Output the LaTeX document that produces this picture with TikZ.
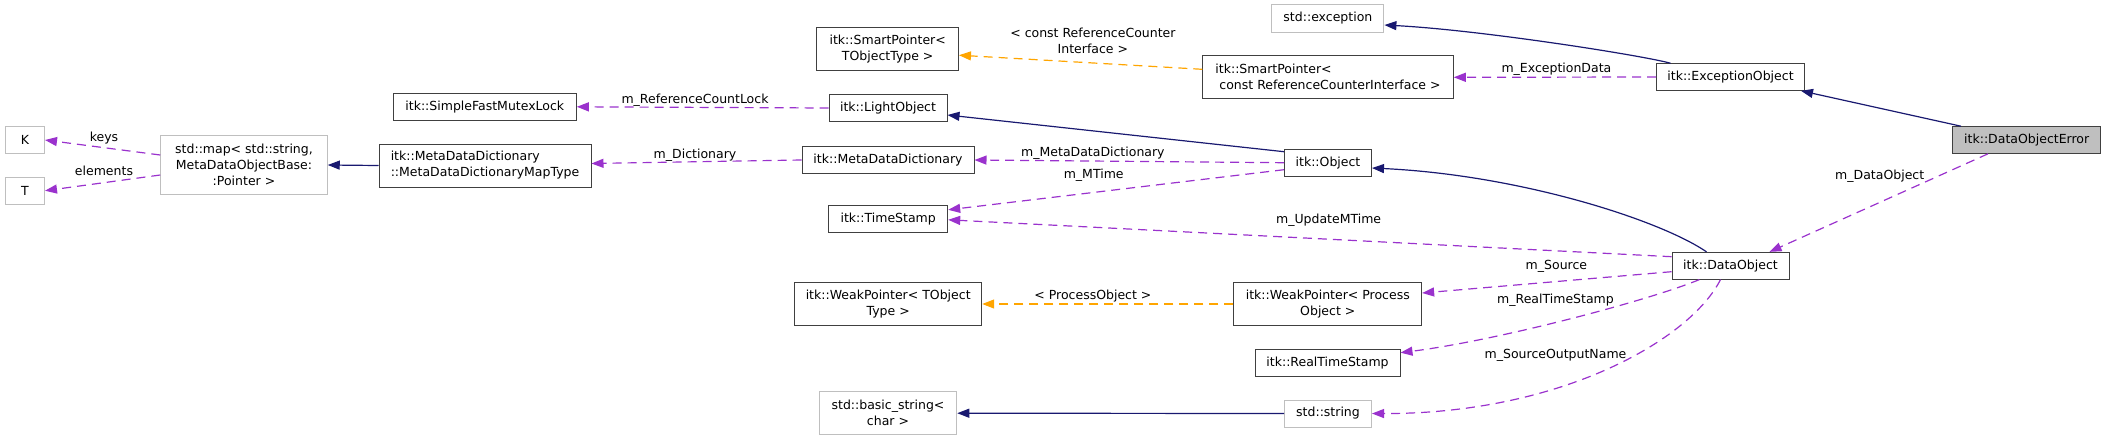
\documentclass[tikz,border=0pt]{standalone}
\usepackage{fontspec}
\setmainfont{DejaVu Sans}
\usepackage{tikz}
\usepackage{xcolor}
\usetikzlibrary{arrows.meta}

\definecolor{colorInherit}{HTML}{191970}
\definecolor{colorMember}{HTML}{9A32CD}
\definecolor{colorTemplate}{HTML}{FFA500}
\definecolor{colorBorder}{HTML}{404040}
\definecolor{colorStd}{HTML}{BFBFBF}
\definecolor{colorMain}{HTML}{BFBFBF}
\def\colorInherit{colorInherit}
\def\colorMember{colorMember}
\def\colorTemplate{colorTemplate}
\def\colorBorder{colorBorder}
\def\colorStd{colorStd}
\def\colorMain{colorMain}

\tikzset{
    classbox/.style = {draw = \colorBorder , fill = white , line width = 1pt , inner sep = 0pt , align = center , font = \fontsize{12.5pt}{16pt}\selectfont},
    stdbox/.style = {classbox , draw = \colorStd},
    mainbox/.style = {classbox , fill = \colorMain},
    lbl/.style = {inner sep = 0pt , align = center , font = \fontsize{12.5pt}{16pt}\selectfont},
    inherit/.style = {line width = 1.2pt , color = \colorInherit , -{Triangle[length=12pt , width=9pt]}},
    member/.style = {line width = 1.2pt , color = \colorMember , dash pattern = on 9pt off 6pt , -{Triangle[length=12pt , width=9pt]}},
    templ/.style = {member , color = \colorTemplate},
}

\begin{document}
\begin{tikzpicture}[x = 1pt , y = -1pt]

    \useasboundingbox (0,0) rectangle (2107,440);

    % Classes (colonne de gauche)
    \node[stdbox , minimum width = 39pt , minimum height = 27pt] (keyK) at (25,140) {K};
    \node[stdbox , minimum width = 39pt , minimum height = 27pt] (elemT) at (25,190.7) {T};
    \node[stdbox , minimum width = 166.5pt , minimum height = 58.6pt] (stdMap) at (244,165) {std::map< std::string,\\MetaDataObjectBase:\\:Pointer >};
    \node[classbox , minimum width = 183pt , minimum height = 27pt] (mutexLock) at (484.8,106.8) {itk::SimpleFastMutexLock};
    \node[classbox , align = left , minimum width = 212pt , minimum height = 43pt] (dictMapType) at (485,165.5) {itk::MetaDataDictionary\\::MetaDataDictionaryMapType};

    % Classes (colonne du milieu)
    \node[classbox , minimum width = 141.5pt , minimum height = 43pt] (smartPtrT) at (887.7,49.2) {itk::SmartPointer<\\TObjectType >};
    \node[classbox , minimum width = 118pt , minimum height = 27pt] (lightObj) at (888,108) {itk::LightObject};
    \node[classbox , minimum width = 172pt , minimum height = 27pt] (metaDict) at (888,160) {itk::MetaDataDictionary};
    \node[classbox , minimum width = 119pt , minimum height = 27pt] (timeStamp) at (888.2,218.8) {itk::TimeStamp};
    \node[classbox , minimum width = 187pt , minimum height = 43pt] (weakPtrT) at (888.2,304) {itk::WeakPointer< TObject\\Type >};
    \node[stdbox , minimum width = 137.5pt , minimum height = 43pt] (basicString) at (888,413.2) {std::basic\_string<\\char >};

    \node[stdbox , minimum width = 112pt , minimum height = 27.6pt] (stdExc) at (1327.9,18.5) {std::exception};
    \node[classbox , align = left , minimum width = 250.5pt , minimum height = 43pt] (smartPtrRCI) at (1328,77.3) {itk::SmartPointer<\\~const ReferenceCounterInterface >};
    \node[classbox , minimum width = 87pt , minimum height = 27pt] (object) at (1328,162.7) {itk::Object};
    \node[classbox , minimum width = 187.7pt , minimum height = 43pt] (weakPtrPO) at (1327.8,304) {itk::WeakPointer< Process\\Object >};
    \node[classbox , minimum width = 145pt , minimum height = 27pt] (realTime) at (1327.5,362.7) {itk::RealTimeStamp};
    \node[stdbox , minimum width = 87pt , minimum height = 27pt] (stdString) at (1328,413.5) {std::string};

    % Classes (colonne de droite)
    \node[classbox , minimum width = 148pt , minimum height = 26.6pt] (excObj) at (1730.5,77) {itk::ExceptionObject};
    \node[classbox , minimum width = 117pt , minimum height = 26.7pt] (dataObj) at (1730.5,265.7) {itk::DataObject};
    \node[mainbox , minimum width = 147.8pt , minimum height = 26.6pt] (dataObjErr) at (2026.7,140) {itk::DataObjectError};

    % Heritage
    \draw[inherit] (dictMapType.west) -- (stdMap.east);
    \draw[inherit] ([yshift=-3pt]object.north west) -- ([yshift=-7pt]lightObj.east);
    \draw[inherit] (stdString.west) -- (basicString.east);
    \draw[inherit] ([xshift=-60pt]excObj.north) .. controls (1640,55) and (1480,30) .. ([yshift=-6.5pt]stdExc.east);
    \draw[inherit] ([xshift=-24pt]dataObj.north) .. controls (1660,220) and (1520,175) .. ([yshift=-5.3pt]object.east);
    \draw[inherit] ([xshift=-65.7pt]dataObjErr.north) -- ([xshift=-4pt]excObj.south east);

    % Membres
    \draw[member] ([yshift=10pt]stdMap.west) -- (keyK.east);
    \draw[member] ([yshift=-10pt]stdMap.west) -- (elemT.east);
    \draw[member] (lightObj.west) -- (mutexLock.east);
    \draw[member] (metaDict.west) -- ([yshift=2pt]dictMapType.east);
    \draw[member] (object.west) -- (metaDict.east);
    \draw[member] ([yshift=-7pt]object.west) -- ([yshift=9pt]timeStamp.east);
    \draw[member] ([yshift=9pt]dataObj.west) -- ([yshift=-1pt]timeStamp.east);
    \draw[member] ([yshift=-6pt]dataObj.west) -- ([yshift=11pt]weakPtrPO.east);
    \draw[member] ([xshift=-31pt]dataObj.south) .. controls (1650,300) and (1500,340) .. ([yshift=10pt]realTime.east);
    \draw[member] ([xshift=-10pt]dataObj.south) .. controls (1690,340) and (1560,414) .. (stdString.east);
    \draw[member] (excObj.west) -- (smartPtrRCI.east);
    \draw[member] ([xshift=-38.7pt]dataObjErr.south) -- ([xshift=39pt]dataObj.north);

    % Templates
    \draw[templ] ([yshift=8pt]smartPtrRCI.west) -- ([yshift=-6pt]smartPtrT.east);
    \draw[templ] (weakPtrPO.west) -- (weakPtrT.east);

    % Etiquettes
    \node[lbl] (lblKeys) at (104,138) {keys};
    \node[lbl] (lblElements) at (104,171) {elements};
    \node[lbl] (lblRefLock) at (695,100) {m\_ReferenceCountLock};
    \node[lbl] (lblDict) at (695,155) {m\_Dictionary};
    \node[lbl] (lblRefIface) at (1092.9,40.7) {< const ReferenceCounter\\Interface >};
    \node[lbl] (lblMetaDict) at (1092.9,153) {m\_MetaDataDictionary};
    \node[lbl] (lblMTime) at (1093.7,175) {m\_MTime};
    \node[lbl] (lblUpdate) at (1328.6,220.7) {m\_UpdateMTime};
    \node[lbl] (lblProcess) at (1092.9,295.7) {< ProcessObject >};
    \node[lbl] (lblExcData) at (1556.4,69) {m\_ExceptionData};
    \node[lbl] (lblDataObj) at (1879.7,176.7) {m\_DataObject};
    \node[lbl] (lblSource) at (1556.4,266.7) {m\_Source};
    \node[lbl] (lblRealTime) at (1555.5,300.7) {m\_RealTimeStamp};
    \node[lbl] (lblOutName) at (1555.5,355.7) {m\_SourceOutputName};

\end{tikzpicture}
\end{document}
